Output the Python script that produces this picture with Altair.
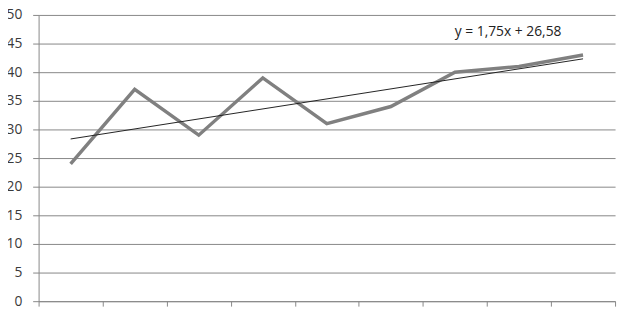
import altair as alt
import pandas as pd

categories = [1, 2, 3, 4, 5, 6, 7, 8, 9]
values = [24, 37, 29, 39, 31, 34, 40, 41, 43]
y_ticks = [0, 5, 10, 15, 20, 25, 30, 35, 40, 45, 50]
x_ticks = [0.5, 1.5, 2.5, 3.5, 4.5, 5.5, 6.5, 7.5, 8.5, 9.5]
label_text = ["y = 1,75x + 26,58"]
label_pos = [(7.83, 47.0)]

df = pd.DataFrame({"x": categories, "y": values})
lab = pd.DataFrame({"x": [p[0] for p in label_pos], "y": [p[1] for p in label_pos], "t": label_text})

xs = alt.Scale(domain=[0.5, 9.5], nice=False, zero=False)
ys = alt.Scale(domain=[0, 50], nice=False)

xaxis = alt.Axis(values=x_ticks, labels=False, title=None, grid=False, tickSize=5,
                 tickColor="#888888", domainColor="#888888", ticks=True)
yaxis = alt.Axis(values=y_ticks, title=None, grid=True, gridColor="#868686", gridWidth=1,
                 tickSize=6, tickColor="#868686", domainColor="#888888",
                 labelFont="Open Sans", labelFontSize=14, labelColor="#3a3a3a", labelPadding=11,
                 labelOverlap=False, labelFlush=False)

X = alt.X("x:Q", scale=xs, axis=xaxis)
Y = alt.Y("y:Q", scale=ys, axis=yaxis)

base = alt.Chart(df)

line = base.mark_line(color="#808080", strokeWidth=3.5).encode(x=X, y=Y)

trend = base.transform_regression("x", "y", method="linear").mark_line(
    color="#222222", strokeWidth=1
).encode(x=X, y=Y)

text = alt.Chart(lab).mark_text(font="Open Sans", fontSize=14, color="#222222").encode(
    x=X, y=Y, text="t:N",
)

chart = alt.layer(line, trend, text).properties(
    width=584, height=290, autosize="none", background="white",
    padding={"left": 31, "top": 5, "right": 5, "bottom": 15},
).configure_view(stroke=None)

chart.save("out.html", embed_options={"renderer": "svg", "actions": False})
